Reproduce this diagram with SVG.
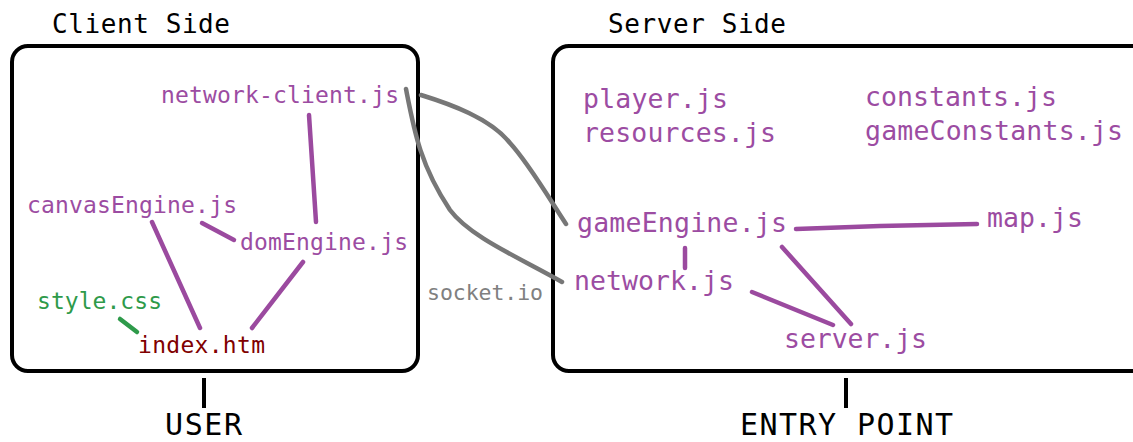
<svg xmlns="http://www.w3.org/2000/svg" width="1133" height="442" viewBox="0 0 1133 442">
<style>
text{font-family:"DejaVu Sans Mono","Liberation Mono",monospace}
.t{font-size:26px;fill:#000}
.c{font-size:23px;fill:#9c4ca2}
.s{font-size:26.5px;fill:#9c4ca2}
.b{font-size:30px;fill:#000}
.box{fill:none;stroke:#000;stroke-width:4}
.p{stroke:#9b4a9f;stroke-width:4.5;stroke-linecap:round;fill:none}
.g{stroke:#777;stroke-width:4.5;stroke-linecap:round;fill:none}
</style>
<rect width="1133" height="442" fill="#fff"/>
<g id="client-box">
<rect class="box" x="12" y="46" width="406" height="325" rx="16"/>
<text class="t" x="52" y="33" textLength="178">Client Side</text>
<line x1="204" y1="378" x2="204" y2="408" stroke="#000" stroke-width="4"/>
<text class="b" x="165" y="435" textLength="77">USER</text>
</g>
<g id="server-box">
<rect class="box" x="553" y="46" width="600" height="325" rx="16"/>
<text class="t" x="608" y="33" textLength="178">Server Side</text>
<line x1="846" y1="378" x2="846" y2="408" stroke="#000" stroke-width="4"/>
<text class="b" x="740" y="435" textLength="213">ENTRY POINT</text>
</g>
<g id="connectors">
<line class="p" x1="309" y1="115" x2="316" y2="222"/>
<line class="p" x1="202" y1="223" x2="234" y2="240"/>
<line class="p" x1="152" y1="222" x2="200" y2="328"/>
<line class="p" x1="303" y1="262" x2="252" y2="328"/>
<line x1="120" y1="319" x2="137" y2="332" stroke="#2e9a4a" stroke-width="4.5" stroke-linecap="round"/>
<path class="p" d="M796 229 L880 226 L977 224"/>
<line class="p" x1="685" y1="248" x2="685" y2="268"/>
<line class="p" x1="782" y1="247" x2="851" y2="324"/>
<line class="p" x1="752" y1="292" x2="833" y2="325"/>
<path class="g" d="M406 89 C414 130,420 165,450 210 C470 237,520 258,562 282"/>
<path class="g" d="M421 95 C450 104,490 118,510 143 C530 165,550 200,566 224"/>
<text x="427" y="300" font-size="21.5" fill="#808080" textLength="116">socket.io</text>
</g>
<g id="network-client"><text class="c" x="161" y="103" textLength="238">network-client.js</text></g>
<g id="canvasEngine"><text class="c" x="27" y="213" textLength="210">canvasEngine.js</text></g>
<g id="domEngine"><text class="c" x="240" y="250" textLength="168">domEngine.js</text></g>
<g id="style"><text x="37" y="309" font-size="23" fill="#2e9a4a" textLength="125">style.css</text></g>
<g id="index"><text x="138" y="353" font-size="23" fill="#800000" textLength="127">index.htm</text></g>
<g id="player"><text class="s" x="583" y="108" textLength="145">player.js</text></g>
<g id="resources"><text class="s" x="583" y="142" textLength="193">resources.js</text></g>
<g id="constants"><text class="s" x="865" y="106" textLength="192">constants.js</text></g>
<g id="gameConstants"><text class="s" x="865" y="140" textLength="258">gameConstants.js</text></g>
<g id="gameEngine"><text class="s" x="577" y="232" textLength="210">gameEngine.js</text></g>
<g id="map"><text class="s" x="987" y="227" textLength="96">map.js</text></g>
<g id="network"><text class="s" x="574" y="290" textLength="160">network.js</text></g>
<g id="server"><text class="s" x="784" y="348" textLength="143">server.js</text></g>
</svg>
